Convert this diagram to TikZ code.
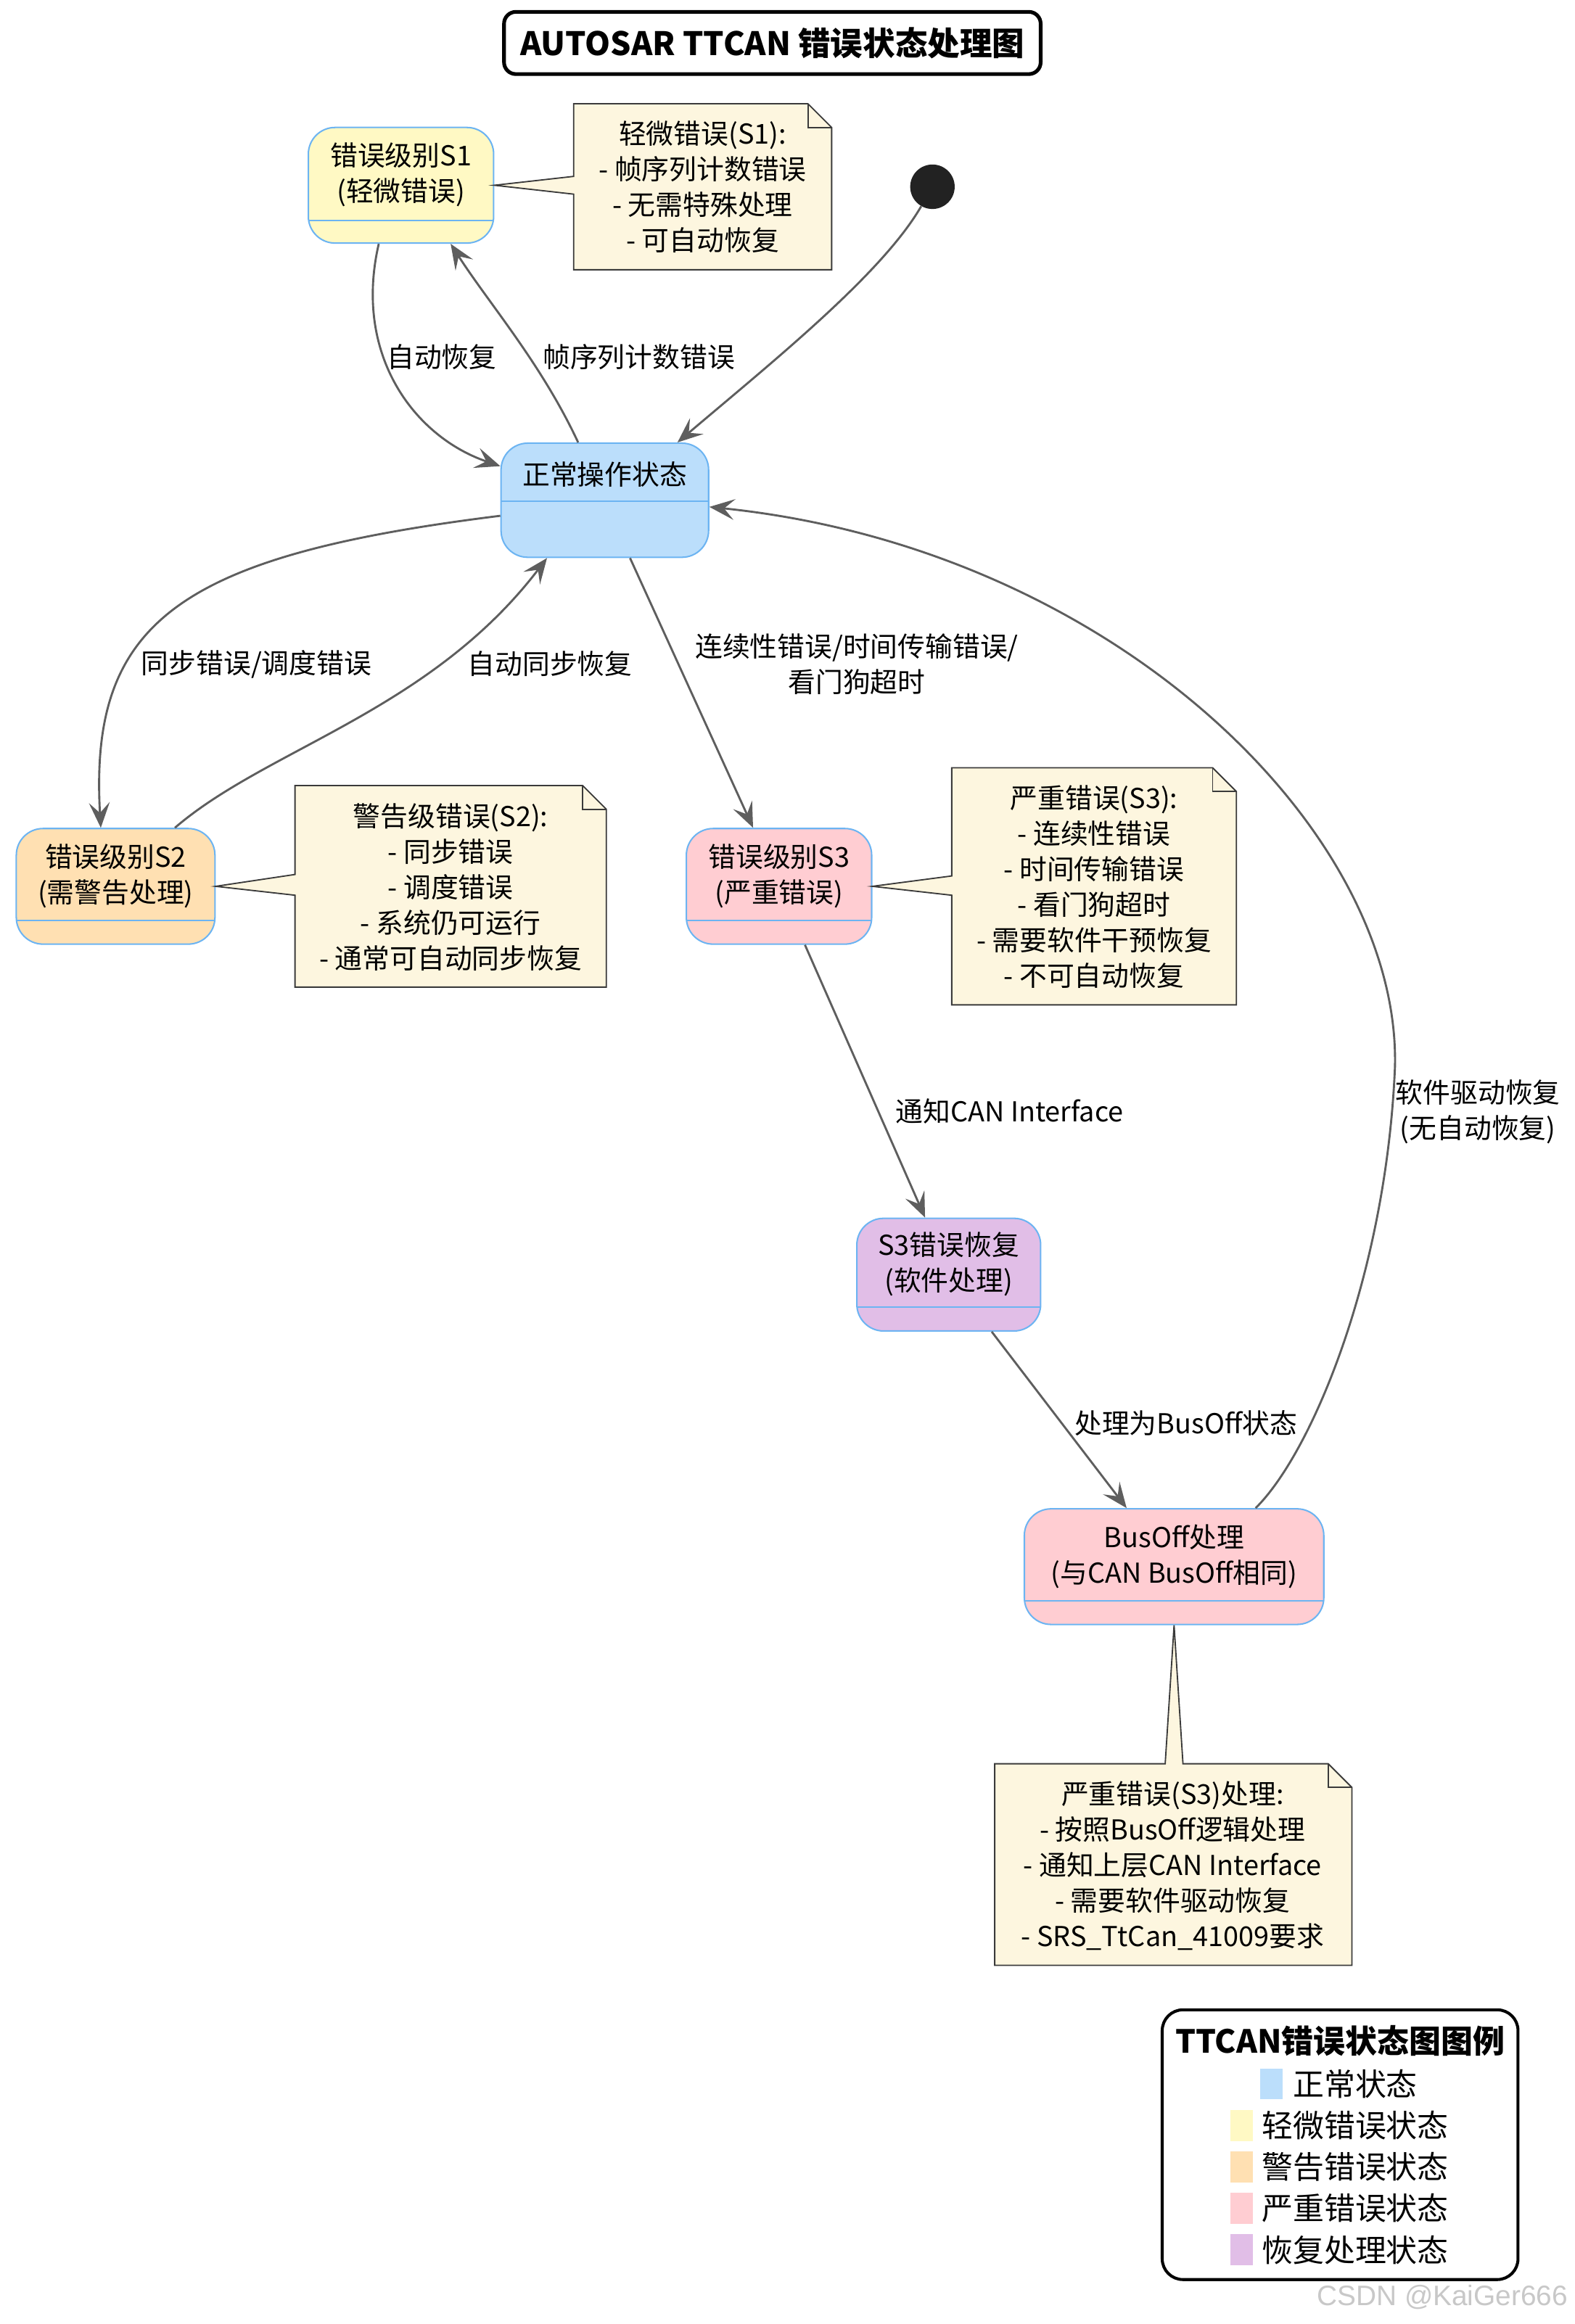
\documentclass[tikz,border=0pt]{standalone}
\usepackage{fontspec}
\setmainfont{Noto Sans CJK SC}
\newfontfamily\wmfont{Liberation Sans}
\usetikzlibrary{arrows.meta,calc}
\definecolor{cnormal}{HTML}{BBDEFB}
\definecolor{cs1}{HTML}{FFF9C4}
\definecolor{cs2}{HTML}{FFE0B2}
\definecolor{cs3}{HTML}{FFCDD2}
\definecolor{crec}{HTML}{E1BEE7}
\definecolor{cborder}{HTML}{6CB4F2}
\definecolor{cnote}{HTML}{FDF6DF}
\definecolor{cnoteline}{HTML}{3A3A3A}
\definecolor{cedge}{HTML}{5E5E5E}
\definecolor{cinit}{HTML}{222222}
\definecolor{cwm}{HTML}{C8C8C8}
\begin{document}
\begin{tikzpicture}[x=1pt,y=-1pt,
  state/.style={draw=cborder,line width=1pt,rounded corners=18pt,inner sep=0pt},
  divider/.style={draw=cborder,line width=1pt},
  txt/.style={align=center,inner sep=0pt,font=\fontsize{18.5}{24}\selectfont},
  lbl/.style={align=center,inner sep=0pt,font=\fontsize{18.5}{24}\selectfont},
  notestyle/.style={draw=cnoteline,fill=cnote,line width=0.9pt,line join=miter},
  arr/.style={draw=cedge,line width=1.4pt,-{Stealth[length=17pt,width=14pt,inset=7pt]}},
  swatch/.style={minimum width=15,minimum height=21,inner sep=0pt},
  legtxt/.style={anchor=west,inner sep=0pt,font=\fontsize{21}{24}\selectfont}]
\useasboundingbox (0,0) rectangle (1062,1568);
\fill[white] (0,0) rectangle (1062,1568);

% title
\node[draw,line width=2.5pt,rounded corners=8pt,minimum width=362,minimum height=42,inner sep=0pt,
  font=\bfseries\fontsize{21.8}{24}\selectfont] (title) at (521,29) {AUTOSAR TTCAN 错误状态处理图};

% states
\node[state,fill=cs1,minimum width=125,minimum height=78] (s1) at (270.5,125) {};
\draw[divider] (208,149) -- (333,149);
\node[txt] (s1t) at (270.5,118) {错误级别S1\\(轻微错误)};

\node[state,fill=cnormal,minimum width=140,minimum height=77] (normal) at (408,337.5) {};
\draw[divider] (338,338) -- (478,338);
\node[txt] (normalt) at (408,320) {正常操作状态};

\node[state,fill=cs2,minimum width=134,minimum height=78] (s2) at (78,598) {};
\draw[divider] (11,621) -- (145,621);
\node[txt] (s2t) at (78,591) {错误级别S2\\(需警告处理)};

\node[state,fill=cs3,minimum width=125,minimum height=78] (s3) at (525.5,598) {};
\draw[divider] (463,621) -- (588,621);
\node[txt] (s3t) at (525.5,591) {错误级别S3\\(严重错误)};

\node[state,fill=crec,minimum width=124,minimum height=76] (rec) at (640,860) {};
\draw[divider] (578,882) -- (702,882);
\node[txt] (rect) at (640,853) {S3错误恢复\\(软件处理)};

\node[state,fill=cs3,minimum width=202,minimum height=78] (busoff) at (792,1057) {};
\draw[divider] (691,1080) -- (893,1080);
\node[txt] (busofft) at (792,1050) {BusOff处理\\(与CAN BusOff相同)};

\node[circle,fill=cinit,minimum size=30,inner sep=0pt] (init) at (629,126) {};

% notes
\draw[notestyle] (387,70) -- (545,70) -- (561,86) -- (561,182) -- (387,182) -- (387,131) -- (s1.east) -- (387,119) -- cycle;
\draw[notestyle,fill=none] (545,70) -- (545,86) -- (561,86);
\node[txt] (n1) at (474,126) {轻微错误(S1):\\- 帧序列计数错误\\- 无需特殊处理\\- 可自动恢复};

\draw[notestyle] (199,530) -- (393,530) -- (409,546) -- (409,666) -- (199,666) -- (199,604) -- (s2.east) -- (199,590) -- cycle;
\draw[notestyle,fill=none] (393,530) -- (393,546) -- (409,546);
\node[txt] (n2) at (304,598.5) {警告级错误(S2):\\- 同步错误\\- 调度错误\\- 系统仍可运行\\- 通常可自动同步恢复};

\draw[notestyle] (642,518) -- (818,518) -- (834,534) -- (834,678) -- (642,678) -- (642,604) -- (s3.east) -- (642,591) -- cycle;
\draw[notestyle,fill=none] (818,518) -- (818,534) -- (834,534);
\node[txt] (n3) at (738,598.5) {严重错误(S3):\\- 连续性错误\\- 时间传输错误\\- 看门狗超时\\- 需要软件干预恢复\\- 不可自动恢复};

\draw[notestyle] (671,1190) -- (786,1190) -- (busoff.south) -- (798,1190) -- (896,1190) -- (912,1206) -- (912,1326) -- (671,1326) -- cycle;
\draw[notestyle,fill=none] (896,1190) -- (896,1206) -- (912,1206);
\node[txt] (n4) at (791,1259) {严重错误(S3)处理:\\- 按照BusOff逻辑处理\\- 通知上层CAN Interface\\- 需要软件驱动恢复\\- SRS\_TtCan\_41009要求};

% edges
\draw[arr] (init) .. controls (595,185) and (520,245) .. ([xshift=49pt]normal.north);
\draw[arr] ([xshift=-15pt]s1.south) .. controls (238,240) and (280,295) .. ([yshift=23pt]normal.west);
\draw[arr] ([xshift=-18pt]normal.north) .. controls (365,245) and (330,205) .. ([xshift=33.5pt]s1.south);
\draw[arr] ([yshift=-10.5pt]normal.west) .. controls (120,375) and (60,420) .. ([xshift=-10pt]s2.north);
\draw[arr] ([xshift=40pt]s2.north) .. controls (180,505) and (290,480) .. ([xshift=-39pt]normal.south);
\draw[arr] ([xshift=17pt]normal.south) -- ([xshift=-17.5pt]s3.north);
\draw[arr] ([xshift=17.5pt]s3.south) -- ([xshift=-16pt]rec.north);
\draw[arr] ([xshift=29pt]rec.south) -- ([xshift=-32pt]busoff.north);
\coordinate (bend9) at (941,720);
\draw[arr] ([xshift=55pt]busoff.north) .. controls (885,980) and (935,860) .. (bend9) .. controls (945,560) and (750,370) .. ([yshift=-4.5pt]normal.east);

% edge labels
\node[lbl] (l1) at (298,241) {自动恢复};
\node[lbl] (l2) at (431,241) {帧序列计数错误};
\node[lbl] (l3) at (173,448) {同步错误/调度错误};
\node[lbl] (l4) at (371,448) {自动同步恢复};
\node[lbl] (l5) at (578,448) {连续性错误/时间传输错误/\\看门狗超时};
\node[lbl] (l6) at (681,750) {通知CAN Interface};
\node[lbl] (l7) at (800,960) {处理为BusOff状态};
\node[lbl] (l8) at (997,750) {软件驱动恢复\\(无自动恢复)};

% legend
\node[draw,line width=2pt,rounded corners=14pt,minimum width=240,minimum height=182,inner sep=0pt] (legend) at (904,1447) {};
\node[inner sep=0pt,font=\bfseries\fontsize{21.5}{24}\selectfont] (legt) at (904,1377) {TTCAN错误状态图图例};
\node[swatch,fill=cnormal] (sw1) at (857.5,1406) {};
\node[legtxt] (lt1) at (872,1406) {正常状态};
\node[swatch,fill=cs1] (sw2) at (837.5,1434) {};
\node[legtxt] (lt2) at (851,1434) {轻微错误状态};
\node[swatch,fill=cs2] (sw3) at (837.5,1462) {};
\node[legtxt] (lt3) at (851,1462) {警告错误状态};
\node[swatch,fill=cs3] (sw4) at (837.5,1490) {};
\node[legtxt] (lt4) at (851,1490) {严重错误状态};
\node[swatch,fill=crec] (sw5) at (837.5,1518) {};
\node[legtxt] (lt5) at (851,1518) {恢复处理状态};

% watermark
\node[inner sep=0pt,text=cwm,font=\wmfont\fontsize{19}{22}\selectfont] (wm) at (973,1550) {CSDN @KaiGer666};
\end{tikzpicture}
\end{document}
